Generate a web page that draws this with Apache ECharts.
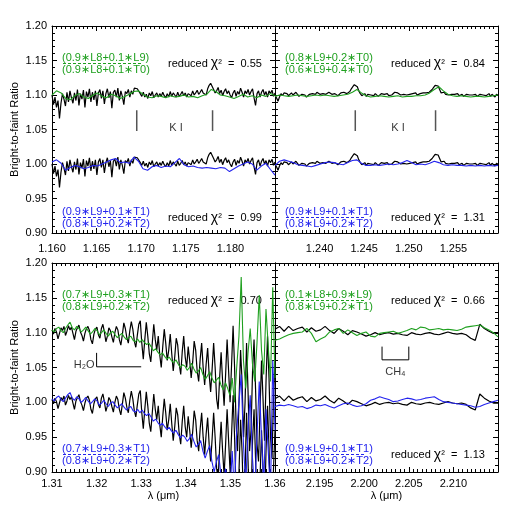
<!DOCTYPE html>
<html><head><meta charset="utf-8">
<script src="https://cdn.jsdelivr.net/npm/echarts@6/dist/echarts.min.js"></script>
<style>html,body{margin:0;padding:0;background:#fff}#c{width:525px;height:525px}</style>
</head><body><div id="c"></div>
<script>
// ---------- wavelength ranges (microns) ----------
const TL_RANGE = [1.160, 1.185];
const TR_RANGE = [1.235, 1.260];
const BL_RANGE = [1.31, 1.36];
const BR_RANGE = [2.190, 2.215];
const Y_RANGE = [0.90, 1.20];
const OFFSET = 0.1; // upper copy of the observed ratio

// ---------- top-left: 1.160-1.185 ----------
const TL_BLACK = [1.000,0.986,0.997,0.982,0.992,0.966,0.988,1.002,0.994,0.984,
1.004,0.990,1.006,0.996,0.988,1.003,0.992,1.008,0.985,1.002,
0.994,1.007,0.982,1.005,0.997,1.009,0.990,1.004,0.993,1.006,
0.984,1.003,1.008,0.995,1.006,0.987,1.002,1.009,0.996,1.005,
0.981,1.004,1.007,0.997,1.010,0.992,1.006,0.998,0.986,1.005,
1.002,1.008,0.997,1.006,1.001,1.010,1.011,1.009,1.007,1.002,
0.998,1.004,0.997,1.001,0.995,1.003,0.999,1.005,0.996,1.000,
1.003,0.997,1.002,0.998,1.004,0.999,0.996,1.002,0.997,1.005,
0.998,1.003,1.000,0.997,1.004,0.998,1.001,1.005,0.999,1.003,
0.997,1.002,1.004,0.999,1.006,1.000,1.003,1.007,1.001,1.004,
1.008,1.003,1.005,1.000,1.009,1.014,1.017,1.015,1.008,1.003,
1.006,1.011,1.002,1.007,0.999,1.005,1.009,1.002,1.006,1.000,
0.996,1.003,1.007,0.998,1.005,1.001,1.010,1.004,0.997,1.006,
1.002,1.008,1.000,1.005,1.009,0.996,0.985,1.002,1.006,0.997,
1.004,1.008,1.000,1.005,0.997,1.006,1.002,1.007,0.998,1.003];
const TL_GREEN = [1.100,1.106,1.103,1.095,1.093,1.099,1.102,1.097,1.095,1.100,
1.103,1.098,1.096,1.101,1.099,1.095,1.098,1.101,1.105,1.106,
1.101,1.097,1.096,1.099,1.098,1.096,1.099,1.097,1.098,1.100,
1.097,1.098,1.096,1.099,1.101,1.108,1.105,1.100,1.099,1.097,
1.095,1.098,1.101,1.097,1.099,1.096,1.100,1.098,1.102,1.099];
const TL_BLUE = [1.003,1.006,1.001,0.991,0.995,0.998,0.996,0.993,0.995,0.998,
0.997,1.000,1.003,1.006,1.008,1.002,1.003,1.001,1.010,1.004,
0.993,0.991,0.996,0.998,0.995,0.997,0.996,1.002,1.008,0.999,
0.996,0.997,0.995,0.994,0.995,0.994,0.993,0.995,0.994,0.989,
0.993,0.997,1.000,1.003,1.000,0.991,0.997,1.001,0.992,0.984];

// ---------- top-right: 1.235-1.260 ----------
const TR_BLACK = [1.000,0.996,0.991,0.997,1.002,0.999,1.003,1.001,1.002,0.999,
1.001,1.003,1.000,1.002,1.004,1.001,0.998,1.000,1.001,1.003,
1.000,0.997,0.998,1.001,1.003,1.002,1.000,1.001,1.004,1.002,
1.001,1.003,1.002,1.000,1.001,1.003,1.004,1.002,1.001,1.000,
1.002,1.001,0.999,1.001,1.003,1.002,1.004,1.003,1.002,1.004,
1.005,1.009,1.012,1.015,1.014,1.012,1.006,1.002,0.999,1.000,
1.002,0.998,1.001,1.003,1.000,1.001,0.999,1.002,1.001,0.998,
1.000,1.002,1.004,1.001,1.000,1.002,0.999,1.001,1.000,1.002,
1.004,1.006,1.003,1.001,1.000,1.002,1.001,1.003,1.000,0.999,
1.001,1.000,1.002,1.001,1.003,1.000,1.001,1.002,1.000,1.003,
1.002,1.003,1.002,1.004,1.005,1.008,1.011,1.014,1.016,1.013,
1.008,1.003,1.002,1.004,1.001,1.003,1.000,1.002,1.001,0.999,
1.001,1.000,1.002,0.999,1.000,1.001,0.998,1.000,1.001,0.999,
1.000,1.002,1.000,0.999,1.001,0.998,1.000,1.001,0.999,1.000,
1.001,0.999,1.000,1.002,0.998,1.001,1.000,0.997,1.001,1.000];
const TR_GREEN = [1.098,1.100,1.099,1.098,1.099,1.100,1.099,1.098,1.099,1.100,
1.099,1.100,1.099,1.098,1.099,1.100,1.101,1.104,1.108,1.103,
1.099,1.097,1.098,1.099,1.098,1.097,1.098,1.099,1.097,1.098,
1.098,1.099,1.099,1.100,1.103,1.108,1.112,1.106,1.101,1.099,
1.098,1.099,1.098,1.097,1.098,1.098,1.097,1.098,1.099,1.100];
const TR_BLUE = [0.998,1.004,1.006,1.004,1.002,0.999,0.998,0.997,0.996,0.998,
1.000,1.002,1.003,1.002,1.000,0.999,1.002,1.005,1.006,1.001,
0.998,0.998,0.999,0.998,0.999,1.000,0.999,1.000,1.002,1.005,
1.002,0.999,1.000,0.999,1.001,1.004,1.002,0.999,0.998,0.999,
0.998,0.998,0.997,0.998,0.997,0.998,0.997,0.998,0.997,0.998];

// ---------- bottom-left: 1.31-1.36 ----------
const BL_BLACK = [1.004,0.998,1.006,1.001,0.991,0.999,1.007,1.003,1.009,0.996,
1.002,1.010,1.004,1.008,0.999,0.990,1.002,1.007,1.011,1.001,
0.996,0.988,0.999,1.006,1.009,1.003,0.990,0.984,0.998,1.005,
1.008,0.997,0.992,1.006,1.012,1.001,0.987,0.995,1.007,1.003,
0.994,0.986,1.000,1.009,1.004,0.990,0.982,0.997,1.014,1.006,
0.993,0.985,1.003,1.016,1.005,0.988,0.979,0.996,1.012,1.017,
0.985,0.962,0.990,1.015,0.995,0.970,0.958,0.985,1.012,0.990,
0.975,0.995,0.968,0.950,0.980,1.005,0.985,0.960,0.975,0.998,
0.970,0.945,0.965,0.992,0.982,0.955,0.940,0.972,0.995,0.965,
0.950,0.980,0.960,0.935,0.958,0.988,0.975,0.945,0.930,0.962,
0.985,0.950,0.925,0.955,0.978,0.940,0.915,0.948,0.985,0.950,
0.905,0.890,0.935,0.972,0.930,0.895,0.940,0.990,0.945,0.900,
0.955,1.010,0.950,0.870,0.830,0.905,0.975,0.930,0.850,0.900,
0.985,0.915,0.830,0.860,0.945,0.990,0.920,0.840,0.815,0.890,
0.960,0.905,0.845,0.930,0.995,0.935,0.850,0.820,0.905,0.960];
const BL_GREEN = [1.104,1.101,1.106,1.108,1.103,1.100,1.106,1.111,1.115,1.107,
1.104,1.109,1.106,1.101,1.104,1.108,1.103,1.098,1.101,1.106,
1.103,1.097,1.100,1.104,1.099,1.095,1.100,1.102,1.097,1.093,
1.096,1.099,1.094,1.090,1.093,1.095,1.089,1.087,1.091,1.086,
1.090,1.086,1.083,1.085,1.080,1.074,1.077,1.072,1.068,1.071,
1.066,1.062,1.065,1.060,1.057,1.061,1.055,1.050,1.054,1.052,
1.046,1.050,1.056,1.048,1.042,1.045,1.050,1.040,1.033,1.038,
1.044,1.035,1.028,1.032,1.036,1.025,1.018,1.028,1.020,1.010,
1.035,1.000,1.050,1.095,1.180,1.060,1.020,1.070,1.106,1.055,
1.030,1.085,1.154,1.075,1.040,1.134,1.080,1.030,1.165,1.035];
const BL_BLUE = [1.005,1.002,1.007,1.009,1.004,1.001,1.006,1.011,1.014,1.006,
1.003,1.008,1.005,1.000,1.003,1.007,1.002,0.998,1.001,1.005,
1.002,0.996,0.999,1.003,0.998,0.994,0.999,1.001,0.996,0.992,
0.995,0.998,0.993,0.989,0.992,0.994,0.988,0.986,0.990,0.985,
0.989,0.984,0.981,0.984,0.979,0.973,0.976,0.971,0.967,0.970,
0.965,0.961,0.964,0.959,0.956,0.960,0.954,0.949,0.953,0.950,
0.944,0.948,0.954,0.944,0.936,0.940,0.945,0.930,0.920,0.930,
0.938,0.915,0.900,0.915,0.925,0.895,0.880,0.905,0.890,0.870,
0.930,0.870,0.960,1.000,1.040,0.940,0.880,0.960,1.010,0.920,
0.870,0.950,1.030,0.950,0.880,0.990,0.930,0.870,1.060,0.960];

// ---------- bottom-right: 2.190-2.215 ----------
const BR_BLACK = [1.005,1.009,1.002,1.009,1.003,1.006,1.008,1.001,1.007,1.002,
1.004,1.009,1.003,0.999,1.006,1.002,0.997,1.003,1.001,0.998,
0.995,0.997,1.000,0.997,0.999,1.000,0.998,0.999,0.997,0.996,
1.000,0.998,0.997,0.999,1.000,0.998,0.997,0.999,1.001,0.999,
0.998,0.999,0.997,0.992,0.989,1.012,1.006,1.002,0.999,0.999];
const BR_GREEN = [1.089,1.091,1.094,1.097,1.099,1.100,1.101,1.106,1.099,1.087,
1.091,1.094,1.101,1.104,1.106,1.099,1.104,1.100,1.096,1.099,
1.101,1.095,1.094,1.099,1.100,1.101,1.102,1.099,1.101,1.103,
1.106,1.104,1.108,1.107,1.104,1.105,1.106,1.104,1.105,1.104,
1.103,1.105,1.108,1.109,1.110,1.111,1.107,1.104,1.100,1.094];
const BR_BLUE = [0.994,0.996,0.995,0.997,0.995,0.993,0.994,0.991,0.993,0.996,
0.995,0.997,0.994,0.992,0.995,0.998,0.999,0.996,0.994,0.995,
0.998,1.003,1.005,1.008,1.006,1.004,1.001,1.002,1.004,1.006,
1.005,1.003,1.004,1.006,1.007,1.008,1.004,1.001,1.000,0.999,
0.998,0.997,0.996,0.995,0.993,0.994,0.997,0.999,1.001,1.003];

// ---------- annotations ----------
const TL_KI = [1.1695, 1.1780];
const TR_KI = [1.2440, 1.2530];
const KI_Y = [1.048, 1.078];
const TL_KI_LABEL = [1.1739, 1.052];
const TR_KI_LABEL = [1.2488, 1.052];
const H2O_PATH = [[1.320, 1.071], [1.320, 1.051], [1.330, 1.051]];
const H2O_LABEL = [1.3172, 1.0536];
const CH4_PATH = [[2.202, 1.080], [2.202, 1.061], [2.205, 1.061], [2.205, 1.080]];
const CH4_LABEL = [2.2035, 1.0435];

const TEXTS = [
  ['(0.9∗L8+0.1∗L9)', '(0.9∗L8+0.1∗T0)', '0.55', '(0.9∗L9+0.1∗T1)', '(0.8∗L9+0.2∗T2)', '0.99'],
  ['(0.8∗L9+0.2∗T0)', '(0.6∗L9+0.4∗T0)', '0.84', '(0.9∗L9+0.1∗T1)', '(0.8∗L9+0.2∗T2)', '1.31'],
  ['(0.7∗L9+0.3∗T1)', '(0.8∗L9+0.2∗T2)', '0.70', '(0.7∗L9+0.3∗T1)', '(0.8∗L9+0.2∗T2)', null],
  ['(0.1∗L8+0.9∗L9)', '(0.8∗L9+0.2∗T1)', '0.66', '(0.9∗L9+0.1∗T1)', '(0.8∗L9+0.2∗T2)', '1.13']
];

// ---------- styling ----------
const FONT = '"Liberation Sans", "DejaVu Sans", Arial, sans-serif';
const GREEN = '#1fa01f';
const BLUE = '#2323ee';
const BLACK = '#000000';
const GRAY = '#555555';

const GRIDS = [
  {left: 52, top: 26, width: 223, height: 207},
  {left: 275, top: 26, width: 223, height: 207},
  {left: 52, top: 263, width: 223, height: 209},
  {left: 275, top: 263, width: 223, height: 209}
];
const RANGES = [TL_RANGE, TR_RANGE, BL_RANGE, BR_RANGE];
const X_INTERVAL = [0.005, 0.005, 0.01, 0.005];
const X_DEC = [3, 3, 2, 3];
const SHOW_MIN = [true, false, true, false];
const SHOW_MAX = [false, false, true, false];

function spectrum(range, vals, off) {
  const n = vals.length, step = (range[1] - range[0]) / (n - 1);
  return vals.map((v, i) => [range[0] + i * step, +(v + off).toFixed(4)]);
}

const xAxes = [], yAxes = [];
for (let p = 0; p < 4; p++) {
  const common = {
    type: 'value', gridIndex: p, min: RANGES[p][0], max: RANGES[p][1], interval: X_INTERVAL[p],
    axisLine: {show: true, lineStyle: {color: BLACK, width: 1}},
    axisTick: {show: true, inside: true, length: 5, lineStyle: {color: BLACK}},
    minorTick: {show: true, splitNumber: 10, length: 3, lineStyle: {color: BLACK}},
    splitLine: {show: false}
  };
  const bottom = p >= 2;
  xAxes.push(Object.assign({}, common, {
    position: 'bottom',
    axisLabel: {show: true, margin: bottom ? 6 : 10, color: BLACK, fontSize: 11, fontFamily: FONT,
      showMinLabel: SHOW_MIN[p], showMaxLabel: SHOW_MAX[p],
      formatter: v => v.toFixed(X_DEC[p])},
    name: bottom ? 'λ (μm)' : '', nameLocation: 'middle', nameGap: 18,
    nameTextStyle: {color: BLACK, fontSize: 11, fontFamily: FONT}
  }));
  xAxes.push(Object.assign({}, common, {position: 'top', axisLabel: {show: false}}));
  const ycommon = {
    type: 'value', gridIndex: p, min: Y_RANGE[0], max: Y_RANGE[1], interval: 0.05,
    axisLine: {show: true, lineStyle: {color: BLACK, width: 1}},
    axisTick: {show: true, inside: true, length: 5, lineStyle: {color: BLACK}},
    minorTick: {show: true, splitNumber: 5, length: 3, lineStyle: {color: BLACK}},
    splitLine: {show: false}
  };
  const left = (p % 2 === 0);
  yAxes.push(Object.assign({}, ycommon, {
    position: 'left',
    axisLabel: {show: left, margin: 5, color: BLACK, fontSize: 11, fontFamily: FONT, formatter: v => v.toFixed(2)},
    name: left ? 'Bright-to-faint Ratio' : '', nameLocation: 'middle', nameGap: 32,
    nameTextStyle: {color: BLACK, fontSize: 11, fontFamily: FONT}
  }));
  yAxes.push(Object.assign({}, ycommon, {position: 'right', axisLabel: {show: false}}));
}

const series = [];
function line(p, data, color, width) {
  series.push({type: 'line', xAxisIndex: 2 * p, yAxisIndex: 2 * p, data: data, showSymbol: false,
    symbol: 'none', silent: true, animation: false, clip: true,
    lineStyle: {color: color, width: width}});
}
function label(p, pos, text) {
  series.push({type: 'scatter', xAxisIndex: 2 * p, yAxisIndex: 2 * p, data: [pos], symbolSize: 0,
    silent: true, animation: false,
    label: {show: true, position: 'inside', formatter: text, color: BLACK, fontSize: 11, fontFamily: FONT}});
}

const PANELS = [
  [TL_BLACK, TL_GREEN, TL_BLUE],
  [TR_BLACK, TR_GREEN, TR_BLUE],
  [BL_BLACK, BL_GREEN, BL_BLUE],
  [BR_BLACK, BR_GREEN, BR_BLUE]
];
PANELS.forEach((d, p) => {
  const r = RANGES[p];
  line(p, spectrum(r, d[0], OFFSET), BLACK, 1.2);
  line(p, spectrum(r, d[1], 0), GREEN, 1.1);
  line(p, spectrum(r, d[0], 0), BLACK, 1.2);
  line(p, spectrum(r, d[2], 0), BLUE, 1.1);
});
TL_KI.forEach(x => line(0, [[x, KI_Y[0]], [x, KI_Y[1]]], GRAY, 1.5));
TR_KI.forEach(x => line(1, [[x, KI_Y[0]], [x, KI_Y[1]]], GRAY, 1.5));
label(0, TL_KI_LABEL, 'K I');
label(1, TR_KI_LABEL, 'K I');
line(2, H2O_PATH, BLACK, 1);
label(2, H2O_LABEL, 'H₂O');
line(3, CH4_PATH, BLACK, 1);
label(3, CH4_LABEL, 'CH₄');

// ---------- text annotations in panel-relative positions ----------
const graphics = [];
function frac(x, yc, top, bot, color) {
  const f = '11px ' + FONT;
  graphics.push({type: 'text', x: x, y: yc - 6, style: {text: top, fill: color, font: f, verticalAlign: 'middle'}});
  graphics.push({type: 'text', x: x, y: yc + 6, style: {text: bot, fill: color, font: f, verticalAlign: 'middle'}});
  graphics.push({type: 'line', shape: {x1: x + 1, y1: yc, x2: x + 81, y2: yc},
    style: {stroke: color, lineWidth: 1, lineDash: [3, 2]}});
}
function chi(x, yc, val) {
  graphics.push({type: 'text', x: x, y: yc, style: {
    text: '{a|reduced }{c|χ}{a|²  =  ' + val + '}', verticalAlign: 'middle', fill: BLACK,
    rich: {a: {fontSize: 11, fontFamily: FONT, fill: BLACK}, c: {fontSize: 14, fontFamily: FONT, fill: BLACK}}
  }});
}
TEXTS.forEach((t, p) => {
  const g = GRIDS[p];
  frac(g.left + 10, g.top + 37.5, t[0], t[1], GREEN);
  chi(g.left + 116, g.top + 37.5, t[2]);
  frac(g.left + 10, g.top + 191.5, t[3], t[4], BLUE);
  if (t[5]) chi(g.left + 116, g.top + 192, t[5]);
});

const chart = echarts.init(document.getElementById('c'), null, {renderer: 'canvas'});
chart.setOption({
  animation: false,
  backgroundColor: '#ffffff',
  grid: GRIDS.map(g => Object.assign({containLabel: false}, g)),
  xAxis: xAxes,
  yAxis: yAxes,
  series: series,
  graphic: graphics
});
</script></body></html>
